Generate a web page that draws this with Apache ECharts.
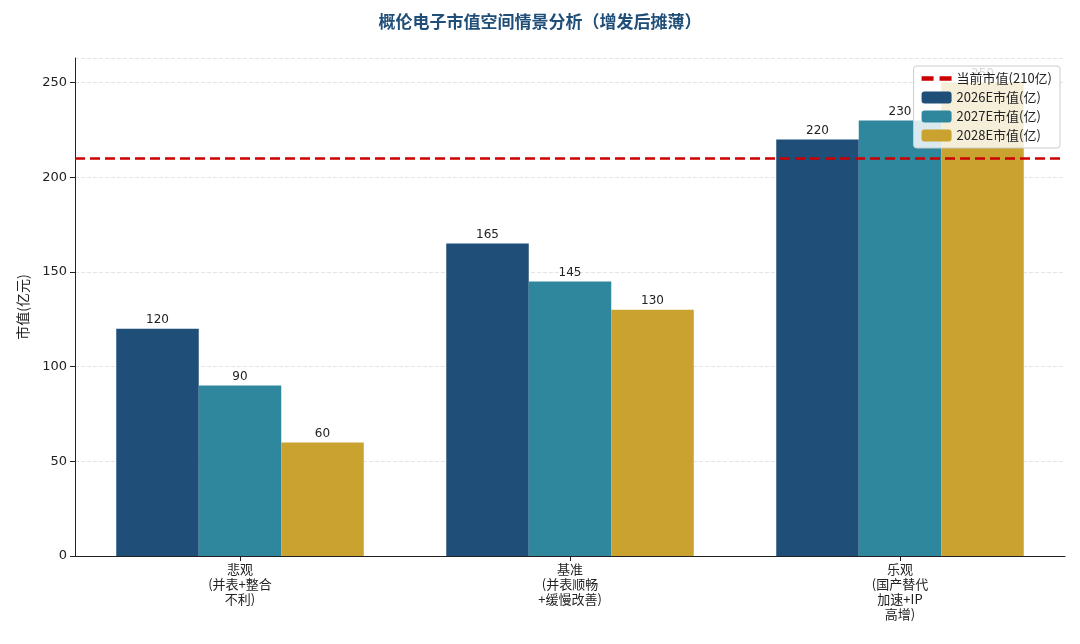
<!DOCTYPE html>
<html><head><meta charset="utf-8">
<script src="https://cdn.jsdelivr.net/npm/echarts@6/dist/echarts.min.js"></script>
<style>html,body{margin:0;background:#fff}#c{width:1080px;height:644px}</style>
</head><body><div id="c"></div>
<script>
const categories = ['悲观\n(并表+整合\n不利)', '基准\n(并表顺畅\n+缓慢改善)', '乐观\n(国产替代\n加速+IP\n高增)'];
const v2026 = [120, 165, 220];
const v2027 = [90, 145, 230];
const v2028 = [60, 130, 250];
const currentCap = 210;
const font = '"Noto Sans CJK SC", "DejaVu Sans", sans-serif';
const chart = echarts.init(document.getElementById('c'));
const lbl = {show: true, position: 'top', color: '#222', fontSize: 12, fontFamily: 'DejaVu Sans', distance: 3};
function bar(name, data, color) {
  return {name, type: 'bar', data, barGap: '0%', barCategoryGap: '25%', itemStyle: {color}, label: lbl, z: 2};
}
chart.setOption({
  animation: false,
  textStyle: {fontFamily: font},
  title: {text: '概伦电子市值空间情景分析（增发后摊薄）', left: 'center', top: 8,
    textStyle: {fontSize: 17, fontWeight: 'bold', color: '#1f4e79', fontFamily: font}},
  grid: {left: 75, right: 15, top: 58, bottom: 88},
  legend: {right: 20, top: 66, orient: 'vertical', itemGap: 6, itemWidth: 30, itemHeight: 12,
    backgroundColor: 'rgba(255,255,255,0.82)', borderColor: '#ccc', borderWidth: 1, borderRadius: 3, padding: [6, 8],
    textStyle: {fontSize: 13, color: '#222', fontFamily: font}, z: 10,
    data: [{name: '当前市值(210亿)', icon: 'path://M0,5L8,5L8,8L0,8ZM12,5L20,5L20,8L12,8Z'}, '2026E市值(亿)', '2027E市值(亿)', '2028E市值(亿)']},
  xAxis: {type: 'category', data: categories,
    axisLine: {lineStyle: {color: '#222'}}, axisTick: {show: true, alignWithLabel: true, lineStyle: {color: '#222'}},
    axisLabel: {color: '#222', fontSize: 13, lineHeight: 15, margin: 6, fontFamily: font}},
  yAxis: {type: 'value', min: 0, max: 263, interval: 50, name: '市值(亿元)', nameLocation: 'middle', nameGap: 45,
    nameTextStyle: {fontSize: 14, color: '#222', fontFamily: font},
    axisLine: {show: true, lineStyle: {color: '#222'}}, axisTick: {show: true},
    axisLabel: {color: '#222', fontSize: 13, fontFamily: 'DejaVu Sans', showMaxLabel: false},
    splitLine: {lineStyle: {type: 'dashed', color: '#e4e4e4'}}},
  series: [
    {name: '当前市值(210亿)', type: 'line', data: [], itemStyle: {color: '#cc0000'}, lineStyle: {type: 'dashed', width: 2.5, color: '#cc0000'},
      markLine: {silent: true, symbol: 'none', label: {show: false}, lineStyle: {type: [10, 5], width: 2.5, color: '#cc0000'},
        data: [{yAxis: currentCap}], z: 5}},
    bar('2026E市值(亿)', v2026, '#1f4e79'),
    bar('2027E市值(亿)', v2027, '#2e879c'),
    bar('2028E市值(亿)', v2028, '#c9a22f')
  ]
});
</script></body></html>
